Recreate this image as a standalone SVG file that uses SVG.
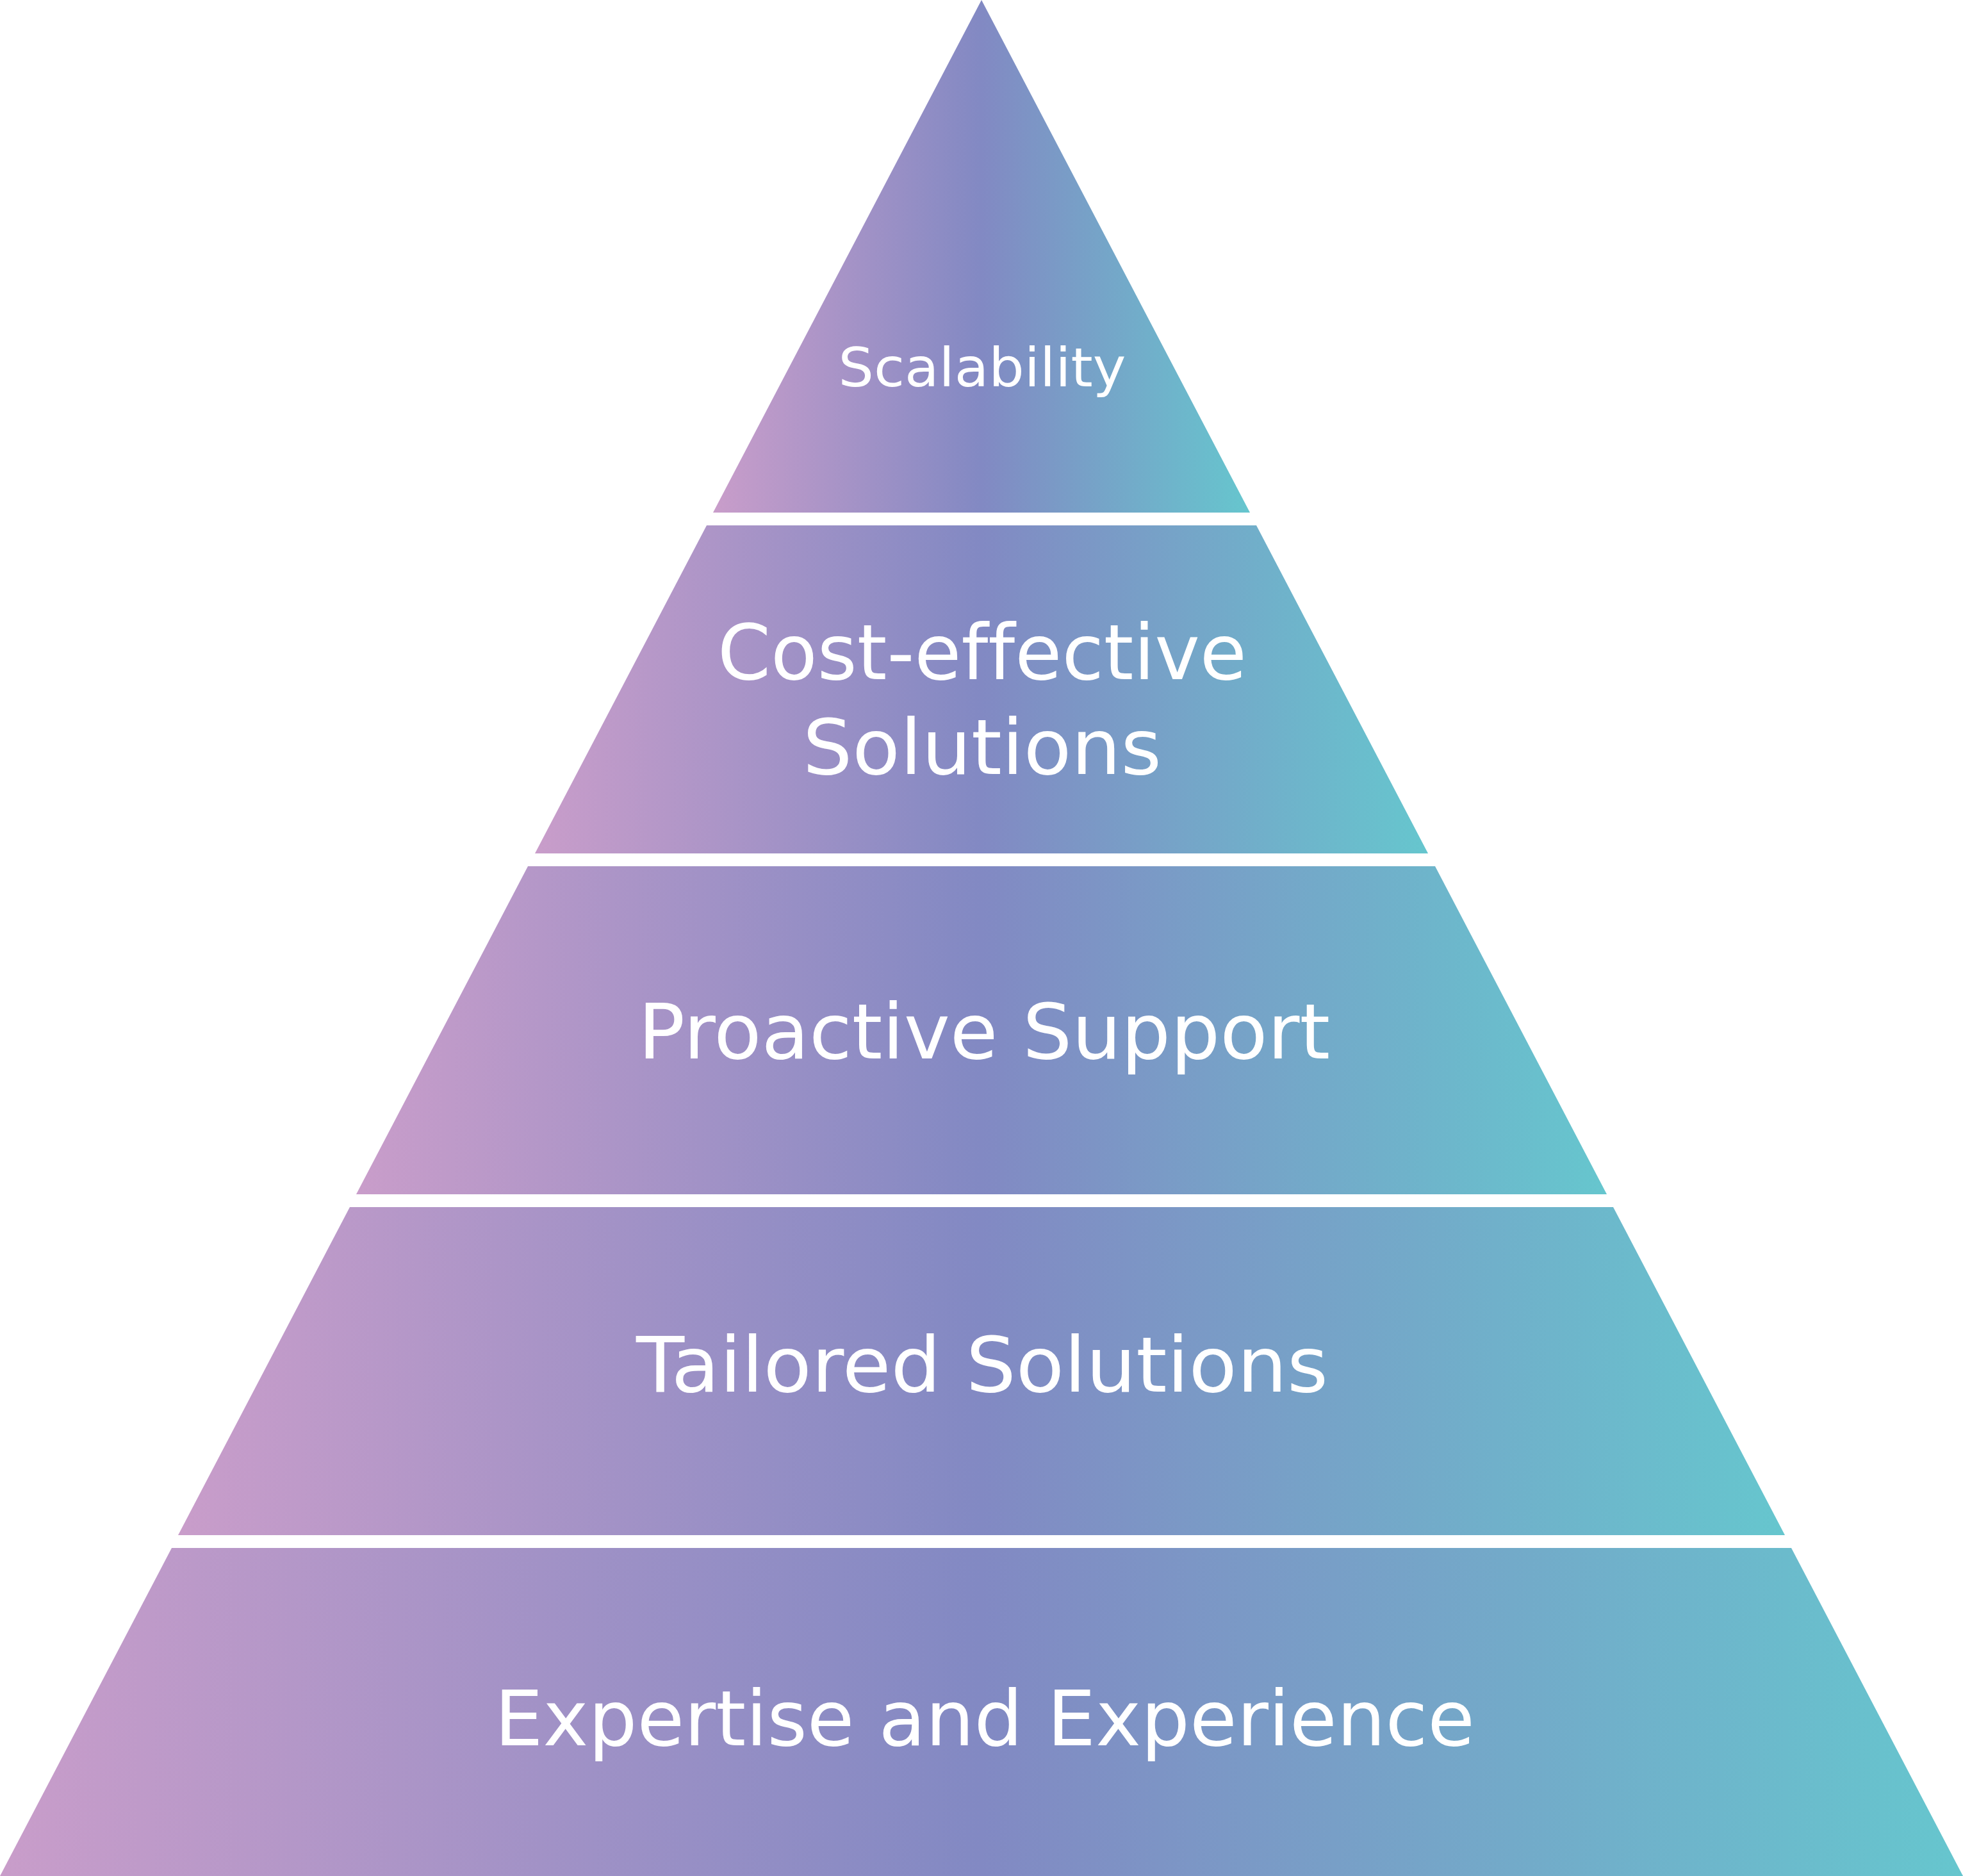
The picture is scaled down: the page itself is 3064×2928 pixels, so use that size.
<svg xmlns="http://www.w3.org/2000/svg" width="3064" height="2928" viewBox="0 0 3064 2928">
  <defs>
    <linearGradient id="g" x1="0" y1="0.5" x2="1" y2="0.5">
      <stop offset="0" stop-color="#C99DCA"/>
      <stop offset="0.5" stop-color="#8289C3"/>
      <stop offset="1" stop-color="#66C6CE"/>
    </linearGradient>
  </defs>
  <style>
    .band { fill: url(#g); }
    .lbl { font-family: "DejaVu Sans", "Noto Sans", sans-serif; fill: #FFFFFF; text-anchor: middle; font-variant-ligatures: none; }
  </style>
  <rect width="3064" height="2928" fill="#FFFFFF"/>
  <g id="level-1">
    <polygon class="band" points="1532,0 1951,800 1113,800"/>
    <text class="lbl" x="1533" y="603" font-size="84" textLength="449" lengthAdjust="spacingAndGlyphs">Scalability</text>
  </g>
  <g id="level-2">
    <polygon class="band" points="1103,820 1961,820 2229,1332 835,1332"/>
    <text class="lbl" x="1533" y="1060" font-size="119" textLength="826" lengthAdjust="spacingAndGlyphs">Cost-effective</text>
    <text class="lbl" x="1533" y="1208" font-size="119" textLength="560" lengthAdjust="spacingAndGlyphs">Solutions</text>
  </g>
  <g id="level-3">
    <polygon class="band" points="824,1352 2240,1352 2508,1864 556,1864"/>
    <text class="lbl" x="1536" y="1652" font-size="119" textLength="1080" lengthAdjust="spacingAndGlyphs">Proactive Support</text>
  </g>
  <g id="level-4">
    <polygon class="band" points="546,1884 2518,1884 2786,2396 278,2396"/>
    <text class="lbl" x="1533" y="2172" font-size="119" textLength="1080" lengthAdjust="spacingAndGlyphs">Tailored Solutions</text>
  </g>
  <g id="level-5">
    <polygon class="band" points="268,2416 2796,2416 3064,2928 0,2928"/>
    <text class="lbl" x="1537" y="2724" font-size="119" textLength="1530" lengthAdjust="spacingAndGlyphs">Expertise and Experience</text>
  </g>
  <g id="connectors"/>
</svg>
